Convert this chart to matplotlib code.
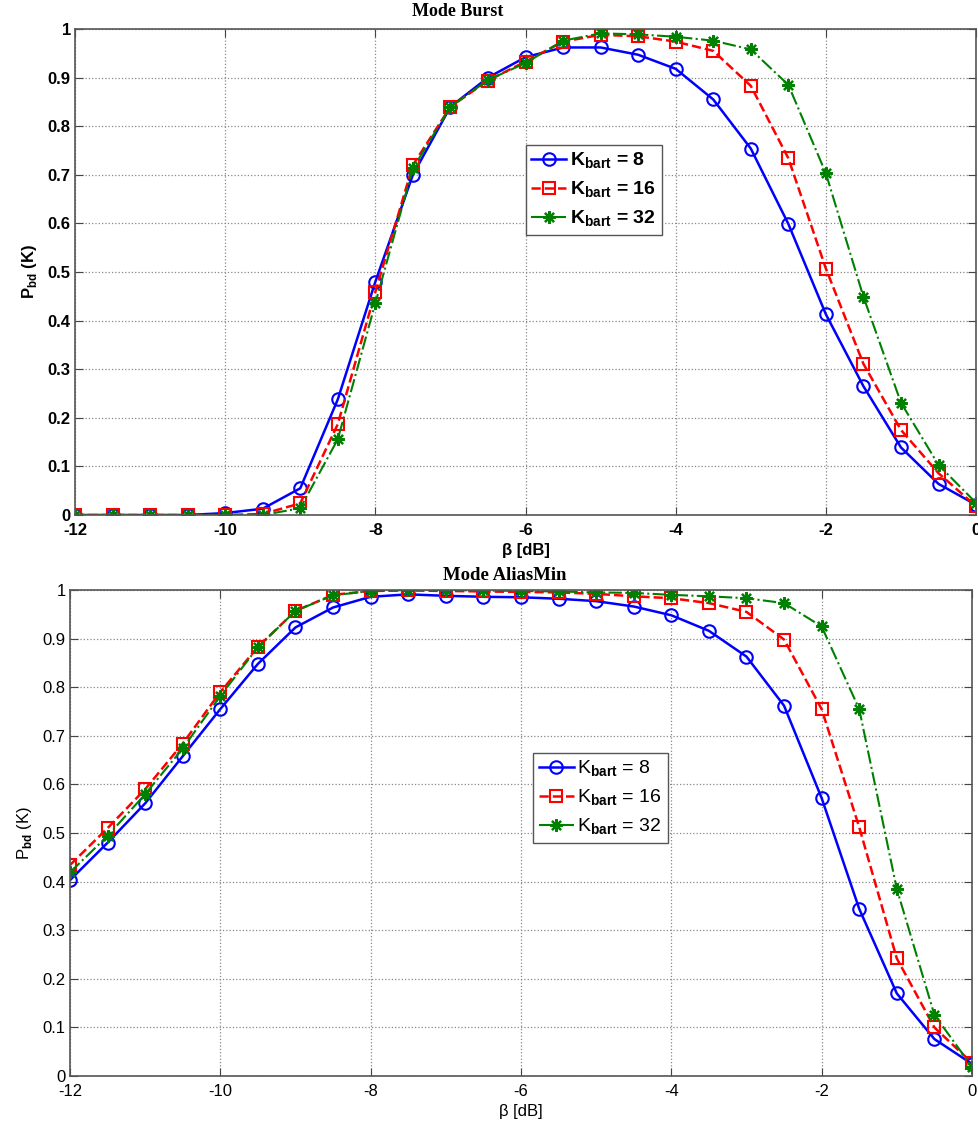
##
#  Detection probability vs beta for two modes (Burst, AliasMin).
#

import matplotlib
matplotlib.use('Agg')
import matplotlib.pyplot as plt

beta = [-12, -11.5, -11, -10.5, -10, -9.5, -9, -8.5, -8, -7.5, -7, -6.5, -6,
        -5.5, -5, -4.5, -4, -3.5, -3, -2.5, -2, -1.5, -1, -0.5, 0]

# Mode Burst
burst_k8 = [0, 0, 0, 0, 0.004, 0.013, 0.055, 0.238, 0.48, 0.70, 0.84, 0.90, 0.942,
            0.962, 0.962, 0.947, 0.918, 0.855, 0.754, 0.599, 0.413, 0.265, 0.139, 0.064, 0.021]
burst_k16 = [0, 0, 0, 0, 0, 0.002, 0.024, 0.187, 0.459, 0.72, 0.84, 0.894, 0.933,
             0.974, 0.988, 0.985, 0.974, 0.955, 0.883, 0.734, 0.507, 0.311, 0.175, 0.086, 0.018]
burst_k32 = [0, 0, 0, 0, 0, 0, 0.014, 0.156, 0.436, 0.713, 0.84, 0.895, 0.93,
             0.976, 0.991, 0.989, 0.984, 0.976, 0.958, 0.885, 0.703, 0.449, 0.231, 0.103, 0.025]

# Mode AliasMin
alias_k8 = [0.403, 0.480, 0.561, 0.658, 0.755, 0.848, 0.923, 0.964, 0.986, 0.991, 0.988, 0.986, 0.985,
            0.982, 0.977, 0.966, 0.948, 0.916, 0.863, 0.762, 0.572, 0.344, 0.170, 0.076, 0.025]
alias_k16 = [0.434, 0.510, 0.590, 0.684, 0.790, 0.883, 0.957, 0.990, 0.998, 0.999, 0.998, 0.997, 0.996,
             0.995, 0.992, 0.987, 0.983, 0.973, 0.955, 0.898, 0.755, 0.512, 0.242, 0.100, 0.027]
alias_k32 = [0.419, 0.494, 0.580, 0.674, 0.782, 0.882, 0.957, 0.989, 0.998, 1.0, 1.0, 0.999, 0.998,
             0.997, 0.995, 0.994, 0.990, 0.987, 0.983, 0.973, 0.925, 0.755, 0.385, 0.126, 0.019]

labels = ['K$_{\\mathbf{bart}}$ = 8', 'K$_{\\mathbf{bart}}$ = 16', 'K$_{\\mathbf{bart}}$ = 32']
xticks = [-12, -10, -8, -6, -4, -2, 0]
yticks = [0, 0.1, 0.2, 0.3, 0.4, 0.5, 0.6, 0.7, 0.8, 0.9, 1]
yticklabels = ['0', '0.1', '0.2', '0.3', '0.4', '0.5', '0.6', '0.7', '0.8', '0.9', '1']

GREEN = (0, 0.5, 0)

plt.rcParams['font.family'] = ['Liberation Sans', 'DejaVu Sans']
plt.rcParams['axes.unicode_minus'] = False
plt.rcParams['mathtext.fontset'] = 'custom'
plt.rcParams['mathtext.rm'] = 'Liberation Sans'
plt.rcParams['mathtext.bf'] = 'Liberation Sans:bold'


def drawPanel(ax, k8, k16, k32, weight, legPos):
   ax.plot(beta, k8, 'b-', marker='o', mfc='none', mew=1.5, ms=9, lw=1.8, label=labels[0])
   ax.plot(beta, k16, 'r--', marker='s', mfc='none', mew=1.5, ms=9, lw=1.8, label=labels[1])
   ax.plot(beta, k32, '-.', color=GREEN, marker=(8, 2, 0), mew=1.6, ms=9, lw=1.5, label=labels[2])
   ax.set_xlim(-12, 0)
   ax.set_ylim(0, 1)
   ax.set_xticks(xticks)
   ax.set_yticks(yticks)
   ax.set_yticklabels(yticklabels)
   ax.grid(True, linestyle=':', color='#888888', linewidth=0.9)
   ax.tick_params(direction='in', top=True, right=True, length=6, color='#444444',
                  labelsize=12)
   ax.tick_params(axis='x', pad=5.5)
   ax.tick_params(axis='y', pad=3)
   for lab in ax.get_xticklabels() + ax.get_yticklabels():
      lab.set_fontweight(weight)
   for sp in ax.spines.values():
      sp.set_color('#555555')
      sp.set_linewidth(1.2)
   ax.set_xlabel('β [dB]', fontsize=12, fontweight=weight, labelpad=4)
   ax.set_ylabel('P$_{\\mathbf{bd}}$ (K)', fontsize=12, fontweight=weight, labelpad=6)
   leg = ax.legend(loc='upper left', bbox_to_anchor=legPos,
                   prop={'size': 14, 'weight': weight}, fancybox=False,
                   edgecolor='#555555', framealpha=1, handlelength=1.8,
                   borderpad=0.3, labelspacing=0.45, handletextpad=0.2, borderaxespad=0)
   leg.get_frame().set_linewidth(1.0)


fig = plt.figure(figsize=(9.79, 11.24), dpi=100)
axTop = fig.add_axes([0.0766, 0.5418, 0.9204, 0.4324])
axBot = fig.add_axes([0.0715, 0.0427, 0.9213, 0.4324])

drawPanel(axTop, burst_k8, burst_k16, burst_k32, 'bold', (0.50, 0.761))
drawPanel(axBot, alias_k8, alias_k16, alias_k32, 'normal', (0.513, 0.665))

fig.text(458/979, 1 - 12/1124, 'Mode Burst', family='Liberation Serif', fontweight='bold',
         fontsize=13, ha='center', va='center')
fig.text(505/979, 1 - 575/1124, 'Mode AliasMin', family='Liberation Serif', fontweight='bold',
         fontsize=13.5, ha='center', va='center')

fig.savefig('out.png', dpi=100)
